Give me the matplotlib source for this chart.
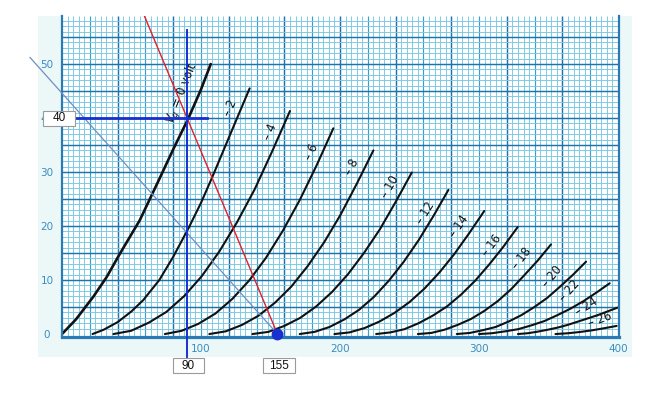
import numpy as np
import matplotlib
matplotlib.use("Agg")
import matplotlib.pyplot as plt
from matplotlib.patches import Rectangle
from matplotlib.transforms import ScaledTranslation

# ---------------- data ----------------
# plate curves: anode voltage Va (V) -> anode current Ia (mA), one per grid voltage
va_g0 = [0, 10, 22.5, 32, 41.7, 56, 70, 80, 91, 100, 107]
ia_g0 = [0, 2.7, 6.9, 10.5, 14.9, 21.1, 28.7, 34.2, 40, 45.3, 50]
va_g2 = [22, 30, 40, 50, 58.5, 70, 80, 91, 100, 108, 116, 124, 135]
ia_g2 = [0, 0.8, 2.2, 4.2, 6.3, 10, 14.3, 19.6, 24.3, 29, 33.9, 38.8, 45.5]
va_g4 = [37, 49.7, 62.4, 75.1, 87.8, 100.5, 113.2, 125.9, 138.6, 151.3, 164]
ia_g4 = [0, 0.6, 2.1, 4.1, 7.0, 10.7, 15.3, 20.7, 26.8, 33.9, 41.3]
va_g6 = [74, 86.1, 98.2, 110.4, 122.5, 134.6, 146.7, 158.8, 171, 183.1, 195.2]
ia_g6 = [0, 0.6, 1.9, 3.8, 6.5, 9.9, 14.1, 19.1, 24.8, 31.2, 38.1]
va_g8 = [106, 117.8, 129.6, 141.4, 153.2, 165, 176.8, 188.6, 200.4, 212.2, 224]
ia_g8 = [0, 0.5, 1.7, 3.4, 5.8, 8.8, 12.6, 17.0, 22.1, 27.9, 34.0]
va_g10 = [137, 148.5, 159.9, 171.4, 182.8, 194.3, 205.8, 217.2, 228.7, 240.1, 251.6]
ia_g10 = [0, 0.4, 1.5, 3.0, 5.1, 7.8, 11.1, 15.0, 19.4, 24.5, 29.9]
va_g12 = [171, 181.7, 192.4, 203.1, 213.8, 224.5, 235.2, 245.9, 256.6, 267.3, 278]
ia_g12 = [0, 0.4, 1.3, 2.7, 4.5, 6.9, 9.9, 13.4, 17.4, 21.9, 26.7]
va_g14 = [196, 206.8, 217.6, 228.3, 239.1, 249.9, 260.7, 271.5, 282.2, 293, 303.8]
ia_g14 = [0, 0.3, 1.1, 2.3, 3.9, 5.9, 8.4, 11.4, 14.8, 18.7, 22.8]
va_g16 = [226, 236.2, 246.4, 256.5, 266.7, 276.9, 287.1, 297.3, 307.4, 317.6, 327.8]
ia_g16 = [0, 0.3, 0.9, 2.0, 3.4, 5.1, 7.3, 9.9, 12.9, 16.2, 19.8]
va_g18 = [256, 265.6, 275.2, 284.7, 294.3, 303.9, 313.5, 323.1, 332.6, 342.2, 351.8]
ia_g18 = [0, 0.2, 0.8, 1.7, 2.8, 4.3, 6.1, 8.3, 10.9, 13.6, 16.6]
va_g20 = [284, 293.3, 302.6, 311.9, 321.2, 330.5, 339.8, 349.1, 358.4, 367.7, 377]
ia_g20 = [0, 0.2, 0.7, 1.3, 2.3, 3.5, 5.0, 6.7, 8.8, 11.0, 13.4]
va_g22 = [300, 309.4, 318.8, 328.2, 337.6, 347, 356.4, 365.8, 375.2, 384.6, 394]
ia_g22 = [0, 0.15, 0.5, 0.9, 1.6, 2.4, 3.5, 4.7, 6.1, 7.7, 9.4]
va_g24 = [328, 335.2, 342.4, 349.5, 356.7, 363.9, 371.1, 378.3, 385.4, 392.6, 399.8]
ia_g24 = [0, 0.15, 0.45, 0.8, 1.2, 1.7, 2.3, 2.9, 3.5, 4.2, 4.9]
va_g26 = [355, 363.8, 372.6, 381.4, 390.2, 399]
ia_g26 = [0, 0.14, 0.38, 0.69, 1.08, 1.5]

curve_labels = ["– 2", "– 4", "– 6", "– 8", "– 10", "– 12", "– 14",
                "– 16", "– 18", "– 20", "– 22", "– 24", "– 26"]
zero_label = r"$V_g$ = 0 volt"

# operating point / load lines
op_va = 90          # V
op_ia = 40          # mA
load_va0 = 155      # V (load line foot, blue dot)
thin_ia0 = 44.6     # mA (second line, intercept at Va = 0)
thin_va_start = -23 # V (where the thin line starts, left of the axis)

x_ticks = [100, 200, 300, 400]
y_ticks = [0, 10, 20, 30, 40, 50]

# ---------------- figure ----------------
W, H, DPI = 650, 407, 100
fig = plt.figure(figsize=(W / DPI, H / DPI), dpi=DPI)
bg = fig.add_axes([0, 0, 1, 1], zorder=-5)
bg.set_xlim(0, W)
bg.set_ylim(0, H)
bg.axis("off")
bg.add_patch(Rectangle((38, 50), 632 - 38, 391 - 50, facecolor="#ecf8f8", edgecolor="none"))

ax = fig.add_axes([62 / W, 70 / H, 557 / W, 321 / H], zorder=1)
ax.set_facecolor("white")
XMIN, XMAX, YMIN, YMAX = 0, 400.7, -0.55, 58.9
ax.set_xlim(XMIN, XMAX)
ax.set_ylim(YMIN, YMAX)

# graph-paper grid
xs = np.arange(4, 400, 4)
ax.vlines([v for v in xs if v % 20], YMIN, YMAX, colors="#78c8e4", lw=0.65, zorder=1)
ax.vlines([v for v in xs if v % 20 == 0 and v % 40], YMIN, YMAX, colors="#3a9dcb", lw=0.85, zorder=1)
ax.vlines([v for v in xs if v % 40 == 0], YMIN, YMAX, colors="#1f72aa", lw=1.05, zorder=1)
ys = np.arange(1, 59, 1)
ax.hlines([v for v in ys if v % 5], XMIN, XMAX, colors="#78c8e4", lw=0.65, zorder=1)
ax.hlines([v for v in ys if v % 5 == 0], XMIN, XMAX, colors="#1f72aa", lw=1.05, zorder=1)

ax.spines["top"].set_visible(False)
for s, lw in (("left", 1.6), ("right", 1.6), ("bottom", 2.3)):
    ax.spines[s].set_color("#2a7ab5")
    ax.spines[s].set_linewidth(lw)
    ax.spines[s].set_zorder(5)

# plate curves
curves = [(va_g0, ia_g0), (va_g2, ia_g2), (va_g4, ia_g4), (va_g6, ia_g6),
          (va_g8, ia_g8), (va_g10, ia_g10), (va_g12, ia_g12), (va_g14, ia_g14),
          (va_g16, ia_g16), (va_g18, ia_g18), (va_g20, ia_g20), (va_g22, ia_g22),
          (va_g24, ia_g24), (va_g26, ia_g26)]
for i, (va, ia) in enumerate(curves):
    ax.plot(va, ia, color="#111111", lw=1.9 if i == 0 else 1.5,
            solid_capstyle="round", solid_joinstyle="round", zorder=3)

# curve labels (positions / rotations are layout)
label_pos = [(121, 41.8), (150, 37.4), (179.8, 33.8), (208.6, 31), (236.2, 27.3),
             (261.4, 22.4), (285.3, 19.9), (309.3, 16.5), (330.9, 14), (352.5, 10.6),
             (365, 8.1), (377.5, 5.1), (387, 2.6)]
label_rot = [66, 66, 64, 62, 60, 58, 55, 52, 52, 50, 48, 32, 20]
for txt, (x, y), r in zip(curve_labels, label_pos, label_rot):
    ax.text(x, y, txt, rotation=r, ha="center", va="center", fontsize=8.3,
            color="#111111", zorder=4, rotation_mode="anchor")
ax.text(87.0, 44.5, zero_label, rotation=68, ha="center", va="center",
        fontsize=8.3, color="#111111", zorder=4, rotation_mode="anchor")

# thin load line (extends left of the axis)
slope_thin = -thin_ia0 / load_va0
ax.plot([thin_va_start, load_va0],
        [thin_ia0 + slope_thin * thin_va_start, 0],
        color="#6f8fc4", lw=0.9, zorder=6, clip_on=False)

# red load line through the operating point
slope_red = -op_ia / (load_va0 - op_va)
y_top = 70
ax.plot([load_va0 + y_top / slope_red, load_va0], [y_top, 0],
        color="#e0202a", lw=1.0, zorder=7)

# crosshair at the operating point
ax.plot([op_va, op_va], [-4.3, 56.3], color="#1a2fd0", lw=1.4, zorder=8, clip_on=False)
ax.plot([-2, 104], [op_ia, op_ia], color="#1a2fd0", lw=2.0, zorder=8, clip_on=False)

# blue dot at the load-line foot
ax.plot([load_va0], [0], "o", ms=7.5, color="#1a2fd0", zorder=11, clip_on=False)

# value boxes
def value_box(x, y, text, w=32, h=15):
    tr = fig.dpi_scale_trans + ScaledTranslation(x, y, ax.transData)
    ax.add_patch(Rectangle((-w / 2 / DPI, -h / 2 / DPI), w / DPI, h / DPI,
                           transform=tr, facecolor="white", edgecolor="#9a9a9a",
                           lw=0.8, zorder=12, clip_on=False))
    ax.text(x, y, text, ha="center", va="center", fontsize=8.5,
            family="Liberation Sans", color="#111111", zorder=13, clip_on=False)

value_box(-2.2, op_ia, str(op_ia))
value_box(op_va + 1, -5.83, str(op_va), w=31)
value_box(load_va0 + 1, -5.83, str(load_va0))

# ticks
ax.set_xticks(x_ticks)
ax.set_xticklabels([str(v) for v in x_ticks])
ax.set_yticks(y_ticks)
ax.set_yticklabels([str(v) for v in y_ticks])
ax.tick_params(axis="both", length=0, labelsize=7.5, labelcolor="#3a8cc0")
ax.tick_params(axis="x", pad=5)
ax.tick_params(axis="y", pad=10.8)
for lab in ax.get_yticklabels():
    lab.set_horizontalalignment("center")

fig.savefig("out.png", dpi=DPI)
